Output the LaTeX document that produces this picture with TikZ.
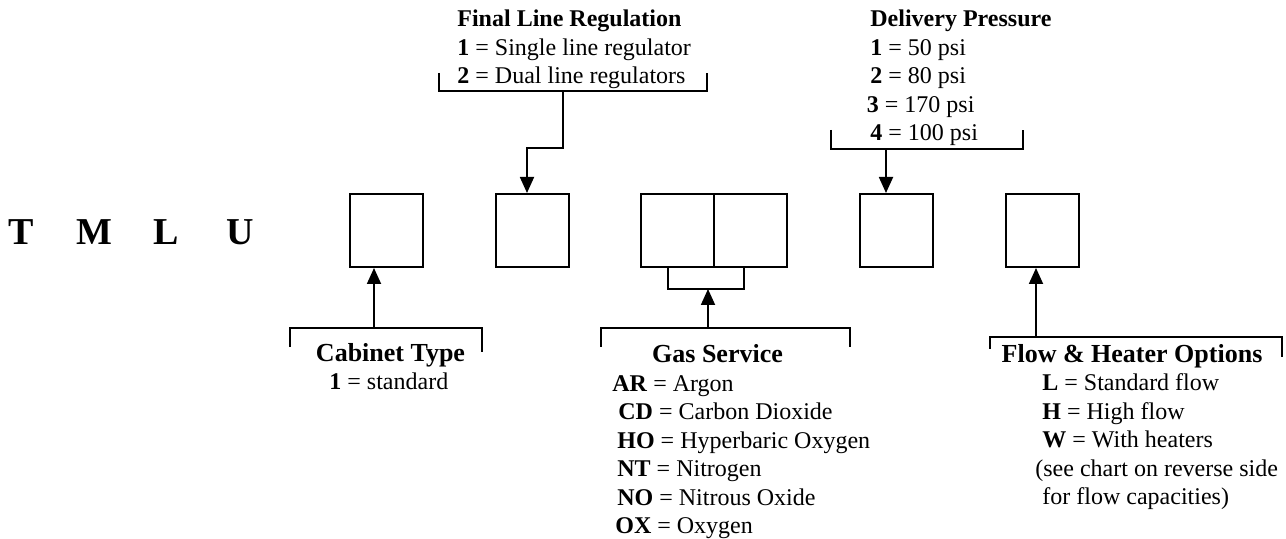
\documentclass[tikz,border=0pt]{standalone}
\usepackage{fontspec}
\setmainfont{Liberation Serif}
\usetikzlibrary{arrows.meta}

\tikzset{
  digit/.style={draw, line width=1pt, minimum width=36.5pt, minimum height=36.5pt, inner sep=0pt},
  bracket/.style={line width=0.7pt},
  arr/.style={line width=0.9pt, -{Triangle[length=8pt,width=7pt]}},
  item/.style={font=\fontsize{12}{14}\selectfont, inner sep=0pt, anchor=base west},
  head/.style={font=\fontsize{12}{14}\selectfont\bfseries, inner sep=0pt, anchor=base west},
  title/.style={font=\fontsize{13}{15}\selectfont\bfseries, inner sep=0pt, anchor=base},
  code/.style={font=\fontsize{19}{21}\selectfont\bfseries, inner sep=0pt, anchor=base},
}

\begin{document}
\begin{tikzpicture}[x=0.5pt,y=-0.5pt]
	\useasboundingbox (0,0) rectangle (1286,539);

	% model prefix
	\foreach \c/\px in {T/21.5, M/94, L/166.5, U/240.5}
		\node[code] (pre\c) at (\px,245) {\c};

	% option boxes
	\node[digit] (cab) at (386,230.5) {};
	\node[digit] (reg) at (532,230.5) {};
	\node[digit] (gasA) at (677.5,230.5) {};
	\node[digit] (gasB) at (750.5,230.5) {};
	\node[digit] (pres) at (896.5,230.5) {};
	\node[digit] (flow) at (1042.5,230.5) {};

	% final line regulation
	\node[head] (regT) at (457,27) {Final Line Regulation};
	\node[item] (reg1) at (457,55.5) {\textbf{1} = Single line regulator};
	\node[item] (reg2) at (457,84) {\textbf{2} = Dual line regulators};
	\draw[bracket] (439,73) |- (707,91) -- (707,73);
	\coordinate (regtap) at (563,91);
	\coordinate (regin) at (527,0);
	\draw[arr] (regtap) -- ++(0,57) -| (reg.north -| regin);

	% delivery pressure
	\node[head] (presT) at (870,27) {Delivery Pressure};
	\foreach \n/\v/\px [count=\i] in {1/50/870, 2/80/870, 3/170/866.5, 4/100/870}
		\node[item] (pres\n) at (\px,{55.5+28.5*(\i-1)}) {\textbf{\n} = \v{} psi};
	\draw[bracket] (831,130) |- (1023,149) -- (1023,130);
	\coordinate (prestap) at (886,149);
	\draw[arr] (prestap) -- (prestap |- pres.north);

	% cabinet type
	\draw[bracket] (290,347) |- (482,328) -- (482,352);
	\coordinate (cabtap) at (374,328);
	\draw[arr] (cabtap) -- (cabtap |- cab.south);
	\node[title] (cabT) at (390.5,362) {Cabinet Type};
	\node[item] (cab1) at (329,390) {\textbf{1} = standard};

	% gas service
	\draw[bracket] (668,267) -- (668,289) -| (744,267);
	\draw[bracket] (601,347) |- (850,328) -- (850,347);
	\coordinate (gastap) at (708,328);
	\coordinate (gasjoin) at (708,289);
	\draw[arr] (gastap) -- (gasjoin);
	\node[title] (gasT) at (717.5,362.5) {Gas Service};
	\foreach \k/\v/\px [count=\i] in {AR/Argon/612, CD/Carbon Dioxide/618, HO/Hyperbaric Oxygen/617,
		NT/Nitrogen/617, NO/Nitrous Oxide/617, OX/Oxygen/615}
		\node[item] (gas\k) at (\px,{391.5+28.5*(\i-1)}) {\textbf{\k} = \v};

	% flow & heater options
	\draw[bracket] (990,349) |- (1282,337) -- (1282,357);
	\coordinate (flowtap) at (1036,337);
	\draw[arr] (flowtap) -- (flowtap |- flow.south);
	\node[title] (flowT) at (1132,362.5) {Flow \& Heater Options};
	\foreach \k/\v [count=\i] in {L/Standard flow, H/High flow, W/With heaters}
		\node[item] (flow\k) at (1042,{391+28.5*(\i-1)}) {\textbf{\k} = \v};
	\node[item] (flowN1) at (1035,476.5) {(see chart on reverse side};
	\node[item] (flowN2) at (1042,505) {for flow capacities)};
\end{tikzpicture}
\end{document}
